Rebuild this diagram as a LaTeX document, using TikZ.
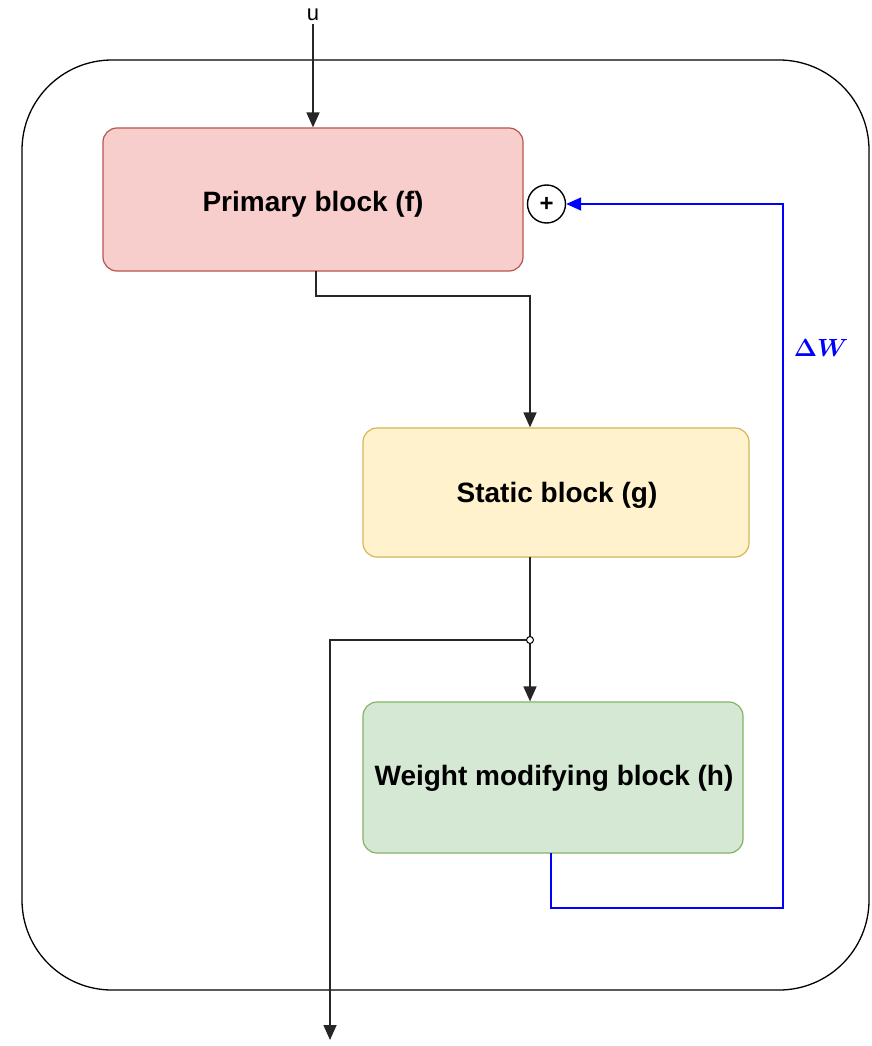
\documentclass[tikz,border=0pt]{standalone}
\usepackage{amsmath}
\usepackage{fontspec}
\setmainfont{Liberation Sans}
\usetikzlibrary{arrows.meta}
\definecolor{redfill}{HTML}{F8CECC}
\definecolor{redline}{HTML}{B85450}
\definecolor{yelfill}{HTML}{FFF2CC}
\definecolor{yelline}{HTML}{D6B656}
\definecolor{grnfill}{HTML}{D5E8D4}
\definecolor{grnline}{HTML}{82B366}
\definecolor{fbblue}{HTML}{0000FF}
\tikzset{
  blockbox/.style={draw, line width=1.2pt, rounded corners=14pt, inner sep=0pt},
  blocktext/.style={font=\fontsize{28}{32}\selectfont\bfseries, inner sep=0pt},
  wire/.style={line width=1.6pt, draw=black!85},
  arr/.style={-{Triangle[length=15pt,width=13pt]}},
  bwire/.style={line width=1.6pt, draw=fbblue},
}
\begin{document}
\begin{tikzpicture}[x=1pt,y=-1pt]
\useasboundingbox (0,0) rectangle (871,1046);
% outer container
\draw[line width=1.3pt, rounded corners=90pt] (22,60) rectangle (869,990);
% blocks
\node[blockbox, fill=redfill, draw=redline, minimum width=420pt, minimum height=143pt] (prim) at (313,199.5) {};
\node[blocktext] (primt) at (313,204) {Primary block (f)};
\node[blockbox, fill=yelfill, draw=yelline, minimum width=386pt, minimum height=129pt] (stat) at (556,492.5) {};
\node[blocktext] (statt) at (557,495) {Static block (g)};
\node[blockbox, fill=grnfill, draw=grnline, minimum width=380pt, minimum height=151pt] (wmod) at (553,777.5) {};
\node[blocktext] (wmodt) at (554,778) {Weight modifying block (h)};
% u input
\node[font=\fontsize{22}{26}\selectfont] (u) at (313,15) {u};
\draw[wire, arr] (u.south) -- (prim.north);
% primary -> static
\coordinate (pb) at (316,271);
\draw[wire, arr] (pb) -- (316,296) -- (530,296) -- (stat.north -| 530,0);
% static -> junction -> weight
\coordinate (sb) at (530,557);
\coordinate (junc) at (530,640);
\coordinate (outp) at (330,1040);
\draw[wire] (sb) -- (junc);
\draw[wire, arr] (junc) -- (wmod.north -| 530,0);
\draw[wire, arr] (junc) -- (330,640) -- (outp);
\draw[line width=1pt, fill=white] (junc) circle (3.5pt);
% plus circle
\node[draw, circle, line width=1.4pt, minimum size=38pt, inner sep=0pt, fill=white, font=\fontsize{24}{24}\selectfont\bfseries] (plus) at (546.5,204) {+};
% feedback
\coordinate (wb) at (551,853);
\draw[bwire, arr] (wb) -- (551,908) -- (783,908) -- (783,204) -- (plus.east);
\node[text=fbblue, font=\fontsize{26}{30}\selectfont] (dw) at (821,348) {$\boldsymbol{\Delta W}$};
\end{tikzpicture}
\end{document}
